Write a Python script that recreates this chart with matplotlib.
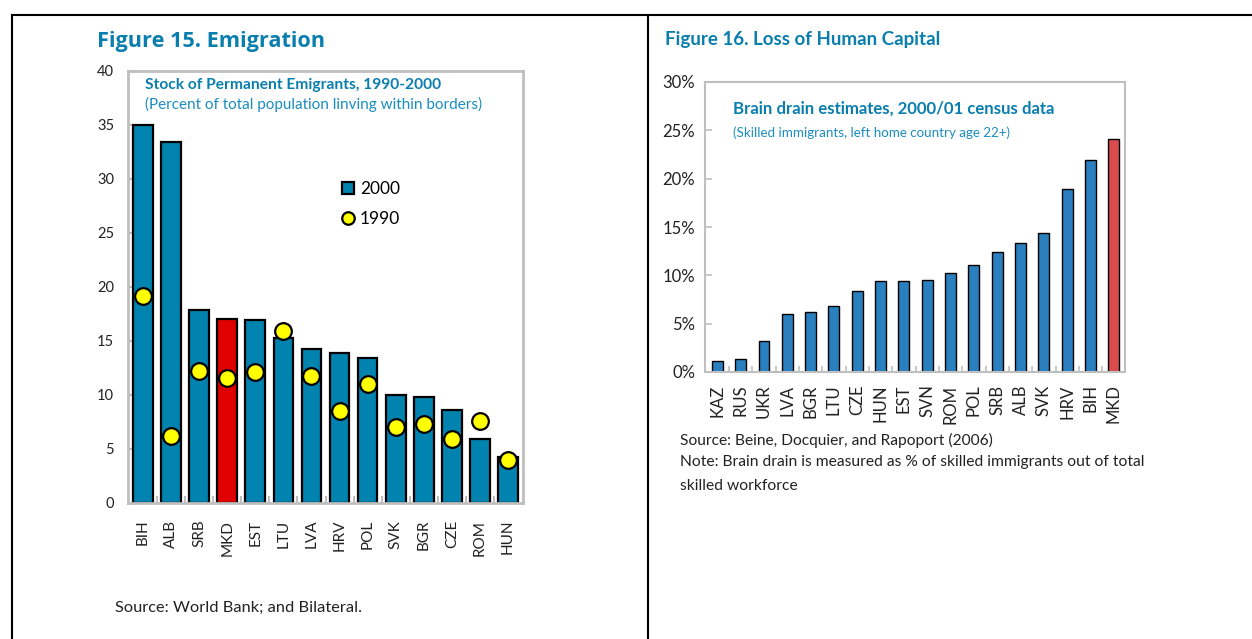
import matplotlib
matplotlib.use("Agg")
import matplotlib.pyplot as plt
from matplotlib.lines import Line2D
import numpy as np

plt.rcParams['font.family'] = ['Lato', 'DejaVu Sans']

# ---- Figure 15 data ----
emig_countries = ["BIH", "ALB", "SRB", "MKD", "EST", "LTU", "LVA", "HRV", "POL", "SVK", "BGR", "CZE", "ROM", "HUN"]
emig_2000 = [35.0, 33.4, 17.9, 17.0, 16.9, 15.3, 14.3, 13.9, 13.4, 10.0, 9.8, 8.6, 5.9, 4.3]
emig_1990 = [19.2, 6.2, 12.2, 11.6, 12.1, 15.9, 11.8, 8.5, 11.0, 7.0, 7.35, 5.9, 7.6, 4.0]
emig_yticks = [0, 5, 10, 15, 20, 25, 30, 35, 40]

# ---- Figure 16 data ----
bd_countries = ["KAZ", "RUS", "UKR", "LVA", "BGR", "LTU", "CZE", "HUN", "EST", "SVN", "ROM", "POL", "SRB", "ALB", "SVK", "HRV", "BIH", "MKD"]
bd_values = [1.1, 1.3, 3.2, 6.0, 6.2, 6.8, 8.4, 9.4, 9.4, 9.5, 10.2, 11.1, 12.4, 13.3, 14.4, 18.9, 21.9, 24.1]
bd_yticks = [0, 5, 10, 15, 20, 25, 30]

W, H = 1252, 639
fig = plt.figure(figsize=(W / 100, H / 100), dpi=100)

def fx(px):
    return px / W

def fy(py):
    return 1 - py / H

TEAL = "#0A7FAE"
GRAY = "#BFBFBF"

# frame lines
for (x0, y0, x1, y1) in [(12, 15, W, 15), (12, 15, 12, H), (648, 15, 648, H)]:
    fig.add_artist(Line2D([fx(x0), fx(x1)], [fy(y0), fy(y1)], color="black", lw=1.5, transform=fig.transFigure))

# ---------------- Left chart ----------------
ax1 = fig.add_axes([fx(128), fy(503), fx(523) - fx(128), fy(71) - fy(503)])
x1 = np.arange(len(emig_countries))
cols1 = ["#E00000" if c == "MKD" else "#0083AF" for c in emig_countries]
ax1.bar(x1, emig_2000, width=0.7, color=cols1, edgecolor="black", linewidth=1.6, zorder=2)
ax1.plot(x1, emig_1990, linestyle="none", marker="o", markersize=12, markerfacecolor="#FFFF00",
         markeredgecolor="black", markeredgewidth=1.6, zorder=3)
ax1.set_xlim(-0.53, len(emig_countries) - 0.47)
ax1.set_ylim(0, 40)
ax1.set_yticks(emig_yticks)
ax1.set_yticklabels([str(v) for v in emig_yticks], fontsize=10.5, color="#222222")
ax1.set_xticks(x1)
ax1.set_xticklabels(emig_countries, rotation=90, fontsize=11, color="#222222")
ax1.set_xticks(x1[:-1] + 0.5, minor=True)
ax1.tick_params(axis="x", which="major", length=0, pad=12)
ax1.tick_params(axis="x", which="minor", direction="in", length=5, color=GRAY, width=1.5)
ax1.tick_params(axis="y", direction="in", length=5, color=GRAY, width=1.5, pad=10)
for s in ax1.spines.values():
    s.set_color(GRAY)
    s.set_linewidth(2)

leg_handles = [
    Line2D([], [], linestyle="none", marker="s", markersize=9, markerfacecolor="#0083AF",
           markeredgecolor="black", markeredgewidth=1.6, label="2000"),
    Line2D([], [], linestyle="none", marker="o", markersize=9, markerfacecolor="#FFFF00",
           markeredgecolor="black", markeredgewidth=1.6, label="1990"),
]
leg = ax1.legend(handles=leg_handles, loc="upper left", bbox_to_anchor=(fx(332), fy(174)),
                 bbox_transform=fig.transFigure, frameon=False, fontsize=12.5,
                 handletextpad=0.2, labelspacing=0.8, handlelength=1.0, borderaxespad=0)

fig.text(fx(97), fy(41), "Figure 15. Emigration", fontsize=15.6, fontweight="bold", color=TEAL, va="center",
         family=["Open Sans", "DejaVu Sans"])
fig.text(fx(145), fy(85), "Stock of Permanent Emigrants, 1990-2000", fontsize=11.2, fontweight="bold",
         color=TEAL, va="center")
fig.text(fx(145), fy(104), "(Percent of total population linving within borders)", fontsize=11,
         color="#1A8CC0", va="center")
fig.text(fx(115), fy(608), "Source: World Bank; and Bilateral.", fontsize=11.8, color="#222222", va="center")

# ---------------- Right chart ----------------
ax2 = fig.add_axes([fx(705), fy(372), fx(1125) - fx(705), fy(82) - fy(372)])
x2 = np.arange(len(bd_countries))
cols2 = ["#DB4B4B" if c == "MKD" else "#2A80BE" for c in bd_countries]
ax2.bar(x2, bd_values, width=0.47, color=cols2, edgecolor="black", linewidth=1.0, zorder=2)
ax2.set_xlim(-0.53, len(bd_countries) - 0.52)
ax2.set_ylim(0, 30)
ax2.set_yticks(bd_yticks)
ax2.set_yticklabels([f"{v}%" for v in bd_yticks], fontsize=12, color="#222222")
ax2.set_xticks(x2)
ax2.set_xticklabels(bd_countries, rotation=90, fontsize=12, color="#222222")
ax2.set_xticks(x2[:-1] + 0.5, minor=True)
ax2.tick_params(axis="x", which="major", length=0, pad=9)
ax2.tick_params(axis="x", which="minor", direction="in", length=4, color=GRAY, width=1.2)
ax2.tick_params(axis="y", direction="in", length=5, color=GRAY, width=1.2, pad=7)
for s in ax2.spines.values():
    s.set_color(GRAY)
    s.set_linewidth(1.5)

fig.text(fx(665), fy(40), "Figure 16. Loss of Human Capital", fontsize=13.5, fontweight="bold", color=TEAL, va="center")
fig.text(fx(733), fy(109), "Brain drain estimates, 2000/01 census data", fontsize=12.1, fontweight="bold",
         color=TEAL, va="center")
fig.text(fx(733), fy(133), "(Skilled immigrants, left home country age 22+)", fontsize=9.6,
         color="#1A8CC0", va="center")
fig.text(fx(680), fy(440), "Source: Beine, Docquier, and Rapoport (2006)", fontsize=11.2, color="#222222", va="center")
fig.text(fx(680), fy(462), "Note: Brain drain is measured as % of skilled immigrants out of total",
         fontsize=11.25, color="#222222", va="center")
fig.text(fx(680), fy(486), "skilled workforce", fontsize=11.25, color="#222222", va="center")

fig.savefig("out.png", dpi=100)
